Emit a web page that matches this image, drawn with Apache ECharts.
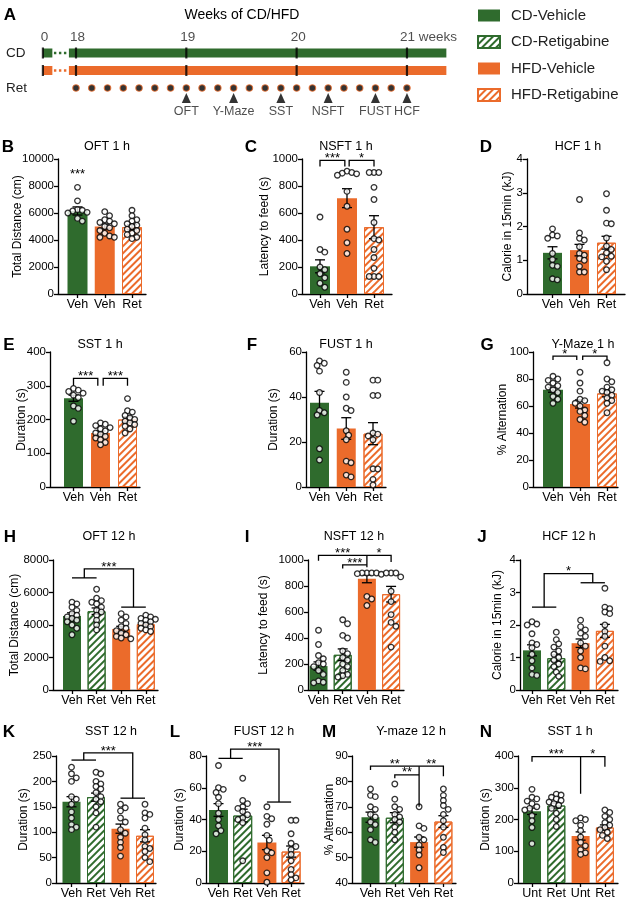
<!DOCTYPE html>
<html>
<head>
<meta charset="utf-8">
<script src="https://cdn.jsdelivr.net/npm/echarts@6/dist/echarts.min.js"></script>
<style>
  html, body { margin: 0; background: #fff; }
  #chart { width: 629px; height: 900px; }
</style>
</head>
<body>
<div id="chart"></div>
<script>
// =====================
// Panel A : timeline
// =====================
const WEEKS = [0, 18, 19, 20, 21]
const RET_DAYS = [0, 1, 2, 3, 4, 5, 6, 7, 8, 9, 10, 11, 12, 13, 14, 15, 16, 17, 18, 19, 20, 21]
const TEST_DAYS = [7, 10, 13, 16, 19, 21]
const TEST_NAMES = ["OFT", "Y-Maze", "SST", "NSFT", "FUST", "HCF"]
const ROW_NAMES = ["CD", "HFD", "Ret"]
const GROUP_NAMES = ["CD-Vehicle", "CD-Retigabine", "HFD-Vehicle", "HFD-Retigabine"]

// =====================
// Bar panels (mean, SEM, single animals)
// group index: 0 CD-Veh, 1 CD-Ret, 2 HFD-Veh, 3 HFD-Ret
// =====================
const B_TITLE = "OFT 1 h", B_YNAME = "Total Distance (cm)"
const B_CATS = ["Veh", "Veh", "Ret"]
const B_GROUPS = [0, 2, 3]
const B_MEAN = [6150, 5000, 4950]
const B_SEM = [300, 180, 190]
const B_DOTS = [
  [7900, 6900, 6250, 6200, 6150, 6050, 6000, 5600, 5400],
  [6100, 5800, 5500, 5400, 5300, 5200, 5000, 4900, 4700, 4500, 4300, 4200, 4200],
  [6200, 5800, 5500, 5400, 5200, 5100, 5000, 4800, 4700, 4500, 4400, 4200, 4100]
]
const B_LINES = []
const B_STARS = [[0, 8700, "***"]]

const C_TITLE = "NSFT 1 h", C_YNAME = "Latency to feed (s)"
const C_CATS = ["Veh", "Veh", "Ret"]
const C_GROUPS = [0, 2, 3]
const C_MEAN = [205, 710, 495]
const C_SEM = [48, 70, 85]
const C_DOTS = [
  [570, 330, 310, 200, 180, 150, 120, 80, 50],
  [910, 900, 895, 890, 880, 760, 650, 480, 380, 300],
  [900, 900, 900, 790, 700, 530, 410, 400, 330, 270, 190, 130, 130, 130]
]
const C_LINES = [[[0, 945], [0, 990], [0.92, 990], [0.92, 945]], [[1.08, 945], [1.08, 990], [2, 990], [2, 945]]]
const C_STARS = [[0.46, 990, "***"], [1.54, 990, "*"]]

const D_TITLE = "HCF 1 h", D_YNAME = "Calorie in 15min (kJ)"
const D_CATS = ["Veh", "Veh", "Ret"]
const D_GROUPS = [0, 2, 3]
const D_MEAN = [1.22, 1.30, 1.52]
const D_SEM = [0.18, 0.17, 0.19]
const D_DOTS = [
  [1.93, 1.75, 1.72, 1.65, 1.2, 1.02, 0.85, 0.82, 0.45, 0.42],
  [2.8, 1.81, 1.65, 1.6, 1.4, 1.2, 1.15, 1.05, 1.0, 0.82, 0.65, 0.65],
  [2.97, 2.48, 2.1, 2.08, 1.66, 1.42, 1.32, 1.22, 1.12, 1.1, 0.97, 0.72]
]
const D_LINES = []
const D_STARS = []

const E_TITLE = "SST 1 h", E_YNAME = "Duration (s)"
const E_CATS = ["Veh", "Veh", "Ret"]
const E_GROUPS = [0, 2, 3]
const E_MEAN = [263, 160, 200]
const E_SEM = [9, 6, 8]
const E_DOTS = [
  [292, 287, 283, 278, 272, 265, 240, 233, 195],
  [190, 186, 182, 176, 172, 166, 160, 156, 150, 145, 140, 132, 125],
  [262, 226, 222, 212, 205, 200, 195, 190, 185, 180, 172, 160]
]
const E_LINES = [[[0, 300], [0, 322], [0.9, 322], [0.9, 300]], [[1.1, 300], [1.1, 322], [2, 322], [2, 300]]]
const E_STARS = [[0.45, 322, "***"], [1.55, 322, "***"]]

const F_TITLE = "FUST 1 h", F_YNAME = "Duration (s)"
const F_CATS = ["Veh", "Veh", "Ret"]
const F_GROUPS = [0, 2, 3]
const F_MEAN = [37.5, 26, 23.7]
const F_SEM = [5, 4.8, 4.9]
const F_DOTS = [
  [56, 55, 54, 51.5, 42, 34, 33, 32, 17, 12],
  [51, 46.5, 40, 35, 34, 25, 23, 21, 11.5, 10.8, 5.3, 4.5],
  [47.5, 47.5, 40.7, 40.7, 24, 23.5, 22.7, 21, 8.1, 8, 3.4, 0.9]
]
const F_LINES = []
const F_STARS = []

const G_TITLE = "Y-Maze 1 h", G_YNAME = "% Alternation"
const G_CATS = ["Veh", "Veh", "Ret"]
const G_GROUPS = [0, 2, 3]
const G_MEAN = [72, 61.5, 69.3]
const G_SEM = [1.8, 3, 2.5]
const G_DOTS = [
  [82, 80, 79, 77, 75, 74, 72, 70, 67, 65, 62],
  [85, 77, 71, 65, 64, 62, 60, 57, 56, 53, 50, 48],
  [92, 80, 78, 74, 72, 71, 70, 68, 66, 64, 62, 55]
]
const G_LINES = [[[0, 94], [0, 97], [0.88, 97], [0.88, 94]], [[1.1, 94], [1.1, 97], [2, 97], [2, 94]]]
const G_STARS = [[0.44, 97, "*"], [1.55, 97, "*"]]

const H_TITLE = "OFT 12 h", H_YNAME = "Total Distance (cm)"
const H_CATS = ["Veh", "Ret", "Veh", "Ret"]
const H_GROUPS = [0, 1, 2, 3]
const H_MEAN = [4550, 4850, 3750, 4050]
const H_SEM = [200, 200, 170, 130]
const H_DOTS = [
  [5400, 5300, 5100, 4900, 4700, 4600, 4500, 4400, 4300, 4200, 4000, 3800, 3400],
  [6200, 5650, 5500, 5400, 5300, 5100, 4900, 4800, 4600, 4300, 4000, 3700],
  [4700, 4500, 4300, 4100, 3900, 3800, 3650, 3500, 3400, 3300, 3200, 3150],
  [4600, 4500, 4400, 4350, 4300, 4200, 4100, 4000, 3900, 3800, 3700, 3600]
]
const H_LINES = [[[0, 6900], [1, 6900]], [[0.5, 6900], [0.5, 7450], [2.5, 7450], [2.5, 5100]], [[2, 5100], [3, 5100]]]
const H_STARS = [[1.5, 7450, "***"]]

const I_TITLE = "NSFT 12 h", I_YNAME = "Latency to feed (s)"
const I_CATS = ["Veh", "Ret", "Veh", "Ret"]
const I_GROUPS = [0, 1, 2, 3]
const I_MEAN = [184, 271, 855, 737]
const I_SEM = [32, 45, 30, 60]
const I_DOTS = [
  [460, 350, 265, 240, 210, 200, 180, 150, 120, 70, 60, 55],
  [540, 510, 420, 400, 300, 280, 250, 230, 200, 180, 150, 120, 110, 100],
  [900, 900, 900, 900, 895, 890, 720, 700, 650],
  [900, 900, 900, 870, 760, 680, 580, 520, 490, 330]
]
const I_LINES = [[[0, 995], [0, 1035], [3, 1035], [3, 985]], [[2, 1035], [2, 945]], [[1, 935], [1, 962], [2, 962]]]
const I_STARS = [[1.0, 1035, "***"], [2.5, 1035, "*"], [1.5, 962, "***"]]

const J_TITLE = "HCF 12 h", J_YNAME = "Calorie in 15min (kJ)"
const J_CATS = ["Veh", "Ret", "Veh", "Ret"]
const J_GROUPS = [0, 1, 2, 3]
const J_MEAN = [1.22, 0.98, 1.44, 1.82]
const J_SEM = [0.17, 0.1, 0.13, 0.2]
const J_DOTS = [
  [2.1, 2.03, 2.0, 1.73, 1.45, 1.4, 1.3, 1.1, 0.9, 0.68, 0.48, 0.45],
  [1.78, 1.55, 1.42, 1.32, 1.2, 1.1, 1.0, 0.92, 0.8, 0.72, 0.55, 0.42],
  [2.15, 1.95, 1.85, 1.75, 1.65, 1.45, 1.35, 1.2, 1.0, 0.68, 0.65],
  [3.13, 2.55, 2.5, 2.4, 2.35, 2.0, 1.8, 1.65, 1.35, 1.0, 0.9, 0.88]
]
const J_LINES = [[[0, 2.55], [1, 2.55]], [[0.5, 2.55], [0.5, 3.58], [2.5, 3.58], [2.5, 3.3]], [[2, 3.3], [3, 3.3]]]
const J_STARS = [[1.5, 3.58, "*"]]

const K_TITLE = "SST 12 h", K_YNAME = "Duration (s)"
const K_CATS = ["Veh", "Ret", "Veh", "Ret"]
const K_GROUPS = [0, 1, 2, 3]
const K_MEAN = [160, 169, 107, 93]
const K_SEM = [10, 8, 9, 12]
const K_DOTS = [
  [228, 215, 207, 200, 170, 165, 155, 140, 128, 115, 110, 105],
  [218, 215, 200, 195, 190, 185, 178, 170, 165, 160, 150, 138, 110],
  [155, 148, 142, 128, 120, 105, 98, 90, 80, 70, 53],
  [155, 138, 135, 128, 108, 95, 85, 72, 68, 62, 50, 42]
]
const K_LINES = [[[0, 242], [1, 242]], [[0.5, 242], [0.5, 256], [2.5, 256], [2.5, 167]], [[2, 167], [3, 167]]]
const K_STARS = [[1.5, 256, "***"]]

const L_TITLE = "FUST 12 h", L_YNAME = "Duration (s)"
const L_CATS = ["Veh", "Ret", "Veh", "Ret"]
const L_GROUPS = [0, 1, 2, 3]
const L_MEAN = [46, 42.5, 25.5, 19.8]
const L_SEM = [4, 4, 4.5, 3.5]
const L_DOTS = [
  [74, 60, 59, 57, 54, 50, 44, 40, 36, 33, 31],
  [66, 52, 50, 48, 47, 45, 43, 41, 40, 38, 14],
  [48, 42, 40.5, 37, 30, 27, 20.3, 19, 16, 6.4, 0.5],
  [39.5, 39.5, 31, 25, 23, 21, 18, 14, 8.5, 5.3, 3.2, 2]
]
const L_LINES = [[[0, 78.5], [1, 78.5]], [[0.5, 78.5], [0.5, 84.3], [2.5, 84.3], [2.5, 51]], [[2, 51], [3, 51]]]
const L_STARS = [[1.5, 84.3, "***"]]

const M_TITLE = "Y-maze 12 h", M_YNAME = "% Alternation"
const M_CATS = ["Veh", "Ret", "Veh", "Ret"]
const M_GROUPS = [0, 1, 2, 3]
const M_MEAN = [65.9, 65.7, 56.1, 64.2]
const M_SEM = [2, 2, 2, 2.3]
const M_DOTS = [
  [77, 74.5, 74, 70, 69, 67, 66, 64, 63, 61, 57, 56],
  [79, 73, 70, 69, 67, 66, 65, 64, 62, 60, 57],
  [70, 62.5, 61.5, 58, 57, 55, 53, 51, 46],
  [77, 74.5, 72.5, 70.5, 69, 67, 64.5, 62, 58, 54, 52]
]
const M_LINES = [[[0, 84.5], [0, 86], [3, 86], [3, 82]], [[2, 86], [2, 70]], [[1, 81.2], [1, 82.6], [2, 82.6]]]
const M_STARS = [[1.0, 86, "**"], [2.5, 86, "**"], [1.5, 82.6, "**"]]

const N_TITLE = "SST 1 h", N_YNAME = "Duration (s)"
const N_CATS = ["Unt", "Ret", "Unt", "Ret"]
const N_GROUPS = [0, 1, 2, 3]
const N_MEAN = [226, 244, 148, 175]
const N_SEM = [10, 8, 13, 8]
const N_DOTS = [
  [295, 270, 265, 258, 250, 240, 235, 230, 212, 196, 175, 124],
  [280, 277, 270, 265, 260, 255, 250, 245, 235, 220, 200, 178],
  [205, 200, 196, 182, 165, 145, 128, 117, 105, 95, 90],
  [230, 222, 210, 200, 190, 182, 175, 168, 160, 150, 140]
]
const N_LINES = [[[0, 382], [0, 398], [3, 398], [3, 366]], [[2, 398], [2, 281]]]
const N_STARS = [[1.0, 398, "***"], [2.5, 398, "*"]]


// =====================
// Layout (pixels) + styles
// =====================
const FONT = "'Liberation Sans', Arial, Helvetica, sans-serif"
const GREEN = "#2f6b2d"
const ORANGE = "#eb6b2b"

function hatch(c) {
  return {
    color: "#fff", borderColor: c, borderWidth: 1,
    decal: { symbol: "rect", symbolSize: 1, color: c, dashArrayX: [1, 0], dashArrayY: [2, 2.2], rotation: -Math.PI / 4 }
  }
}
const GROUP_STYLE = [{ color: GREEN }, hatch(GREEN), { color: ORANGE }, hatch(ORANGE)]

const ROWS = [
  { top: 159, bottom: 294, ty: 147 },
  { top: 352, bottom: 487, ty: 345 },
  { top: 560, bottom: 690, ty: 537 },
  { top: 756, bottom: 884, ty: 732 }
]

// axis = y-axis x, end = x-axis end, c0 = first bar centre, step = bar spacing
const PANELS = [
  { L: "B", row: 0, axis: 58, end: 146, c0: 77.5, step: 27.25, bw: 20, yMin: 0, yMax: 10000, yInt: 2000, gap: 34, tx: 107, lx: 8 },
  { L: "C", row: 0, axis: 302, end: 392, c0: 320, step: 27, bw: 20, yMin: 0, yMax: 1000, yInt: 200, gap: 31, tx: 346, lx: 251 },
  { L: "D", row: 0, axis: 527, end: 625, c0: 552.5, step: 27, bw: 19, yMin: 0, yMax: 4, yInt: 1, gap: 13, tx: 578, lx: 486 },
  { L: "E", row: 1, axis: 50, end: 140, c0: 73.5, step: 27, bw: 19, yMin: 0, yMax: 400, yInt: 100, gap: 22, tx: 100, lx: 9 },
  { L: "F", row: 1, axis: 306, end: 386, c0: 319.5, step: 26.75, bw: 19, yMin: 0, yMax: 60, yInt: 20, gap: 26, tx: 346, lx: 252 },
  { L: "G", row: 1, axis: 533, end: 618, c0: 553, step: 27, bw: 20, yMin: 0, yMax: 100, yInt: 20, gap: 24, tx: 583, lx: 487 },
  { L: "H", row: 2, axis: 53, end: 158, c0: 72, step: 24.6, bw: 18, yMin: 0, yMax: 8000, yInt: 2000, gap: 32, tx: 109, lx: 10 },
  { L: "I", row: 2, axis: 308, end: 404, c0: 318.5, step: 24.2, bw: 18, yMin: 0, yMax: 1000, yInt: 200, gap: 38, tx: 354, lx: 247 },
  { L: "J", row: 2, axis: 520, end: 618, c0: 532, step: 24.3, bw: 18, yMin: 0, yMax: 4, yInt: 1, gap: 16, tx: 569, lx: 482 },
  { L: "K", row: 3, axis: 56, end: 156, c0: 71.5, step: 24.5, bw: 18, yMin: 0, yMax: 250, yInt: 50, gap: 26, tx: 111, lx: 9 },
  { L: "L", row: 3, axis: 206, end: 304, c0: 218.5, step: 24.2, bw: 19, yMin: 0, yMax: 80, yInt: 20, gap: 20, tx: 264, lx: 175 },
  { L: "M", row: 3, axis: 352, end: 456, c0: 370.5, step: 24.3, bw: 18, yMin: 40, yMax: 90, yInt: 10, gap: 16, tx: 411, lx: 329 },
  { L: "N", row: 3, axis: 518, end: 618, c0: 532, step: 24.3, bw: 18, yMin: 0, yMax: 400, yInt: 100, gap: 26, tx: 570, lx: 486 }
]

const DATA = {
  B: [B_TITLE, B_YNAME, B_CATS, B_GROUPS, B_MEAN, B_SEM, B_DOTS, B_LINES, B_STARS],
  C: [C_TITLE, C_YNAME, C_CATS, C_GROUPS, C_MEAN, C_SEM, C_DOTS, C_LINES, C_STARS],
  D: [D_TITLE, D_YNAME, D_CATS, D_GROUPS, D_MEAN, D_SEM, D_DOTS, D_LINES, D_STARS],
  E: [E_TITLE, E_YNAME, E_CATS, E_GROUPS, E_MEAN, E_SEM, E_DOTS, E_LINES, E_STARS],
  F: [F_TITLE, F_YNAME, F_CATS, F_GROUPS, F_MEAN, F_SEM, F_DOTS, F_LINES, F_STARS],
  G: [G_TITLE, G_YNAME, G_CATS, G_GROUPS, G_MEAN, G_SEM, G_DOTS, G_LINES, G_STARS],
  H: [H_TITLE, H_YNAME, H_CATS, H_GROUPS, H_MEAN, H_SEM, H_DOTS, H_LINES, H_STARS],
  I: [I_TITLE, I_YNAME, I_CATS, I_GROUPS, I_MEAN, I_SEM, I_DOTS, I_LINES, I_STARS],
  J: [J_TITLE, J_YNAME, J_CATS, J_GROUPS, J_MEAN, J_SEM, J_DOTS, J_LINES, J_STARS],
  K: [K_TITLE, K_YNAME, K_CATS, K_GROUPS, K_MEAN, K_SEM, K_DOTS, K_LINES, K_STARS],
  L: [L_TITLE, L_YNAME, L_CATS, L_GROUPS, L_MEAN, L_SEM, L_DOTS, L_LINES, L_STARS],
  M: [M_TITLE, M_YNAME, M_CATS, M_GROUPS, M_MEAN, M_SEM, M_DOTS, M_LINES, M_STARS],
  N: [N_TITLE, N_YNAME, N_CATS, N_GROUPS, N_MEAN, N_SEM, N_DOTS, N_LINES, N_STARS]
}

const grids = [], xAxes = [], yAxes = [], series = [], texts = []

function addText(x, y, text, font) {
  texts.push({
    type: "text", x, y, silent: true, z: 100,
    style: { text, font, fill: "#000", align: "center", verticalAlign: "middle", textAlign: "center", textVerticalAlign: "middle" }
  })
}

// push dots sideways until they clear the ones already placed (beeswarm)
function swarm(vals, pxY, pxX, d) {
  const placed = []
  return vals.map(v => {
    const y = v * pxY
    for (let k = 0; k < 60; k++) {
      const dx = (k % 2 ? 1 : -1) * Math.ceil(k / 2) * d * 0.5
      if (placed.every(p => (p[0] - dx) ** 2 + (p[1] - y) ** 2 >= d * d)) {
        placed.push([dx, y])
        return dx / pxX
      }
    }
    return 0
  })
}

// =====================
// Panel A grid
// =====================
const A_DAY0 = 76, A_DAYPX = 15.76
const A_MIN = -2.5, A_MAX = 23.5
const STUB_DAY = -2.1, STUB_END = -1.5, MAIN_START = -0.45
const dayOf = w => (w === 0 ? STUB_DAY : (w - 18) * 7)

grids.push({ left: A_DAY0 + A_MIN * A_DAYPX, width: (A_MAX - A_MIN) * A_DAYPX, top: 44.25, height: 52.5 })
xAxes.push({ type: "value", gridIndex: 0, min: A_MIN, max: A_MAX, show: false })
yAxes.push({
  type: "category", gridIndex: 0, inverse: true, data: ROW_NAMES,
  axisLine: { show: false }, axisTick: { show: false }, splitLine: { show: false },
  axisLabel: { align: "left", margin: A_DAY0 + A_MIN * A_DAYPX - 6, fontSize: 13.5, color: "#222", fontFamily: FONT }
})

;[["CD", GREEN], ["HFD", ORANGE]].forEach(([row, c]) => {
  const solid = { width: 9, color: c, cap: "butt" }
  series.push(
    { type: "line", xAxisIndex: 0, yAxisIndex: 0, symbol: "none", silent: true, lineStyle: solid,
      data: [[STUB_DAY, row], [STUB_END, row]] },
    { type: "line", xAxisIndex: 0, yAxisIndex: 0, symbol: "none", silent: true,
      lineStyle: { width: 2.4, color: c, type: [2.4, 2.6] },
      data: [[STUB_END + 0.1, row], [MAIN_START - 0.1, row]] },
    { type: "line", xAxisIndex: 0, yAxisIndex: 0, symbol: "none", silent: true, lineStyle: solid,
      data: [[MAIN_START, row], [A_MAX, row]] },
    { type: "scatter", xAxisIndex: 0, yAxisIndex: 0, symbol: "rect", symbolSize: [2.2, 11], silent: true, z: 5,
      itemStyle: { color: "#000" },
      label: {
        show: row === "CD", position: "top", distance: 3, offset: [1.5, 0],
        fontSize: 13.5, fontFamily: FONT, color: "#222",
        formatter: p => String(WEEKS[p.dataIndex])
      },
      data: WEEKS.map((w, i) => i === WEEKS.length - 1 && row === "CD"
        ? { value: [dayOf(w), row], label: { align: "left", offset: [-7, 0], formatter: w + " weeks" } }
        : [dayOf(w), row]) }
  )
})

series.push(
  { type: "scatter", xAxisIndex: 0, yAxisIndex: 0, symbolSize: 6.5, silent: true,
    itemStyle: { color: "#000", borderColor: ORANGE, borderWidth: 1.2 },
    data: RET_DAYS.map(d => [d, "Ret"]) },
  { type: "scatter", xAxisIndex: 0, yAxisIndex: 0, symbol: "triangle", symbolSize: [9, 10], symbolOffset: [0, 10],
    silent: true, itemStyle: { color: "#000" },
    data: TEST_DAYS.map(d => [d, "Ret"]) },
  { type: "scatter", xAxisIndex: 0, yAxisIndex: 0, symbolSize: 0.1, silent: true,
    label: { show: true, position: "bottom", distance: 17, fontSize: 12.5, fontFamily: FONT, color: "#222",
      formatter: p => TEST_NAMES[p.dataIndex] },
    data: TEST_DAYS.map(d => [d, "Ret"]) }
)

// legend entries (empty series carrying the group styles)
GROUP_NAMES.forEach((name, i) => {
  series.push({ type: "bar", name, xAxisIndex: 0, yAxisIndex: 0, data: [], itemStyle: GROUP_STYLE[i] })
})

addText(242, 15, "Weeks of CD/HFD", `14px ${FONT}`)
addText(10, 15, "A", `bold 17px ${FONT}`)

// =====================
// Bar panels
// =====================
const AXIS_LINE = { color: "#000", width: 1.3 }

PANELS.forEach(P => {
  const [title, yName, cats, groups, mean, sem, dots, lines, stars] = DATA[P.L]
  const R = ROWS[P.row]
  const gi = grids.length
  const xMin = (P.axis - P.c0) / P.step
  const xMax = (P.end - P.c0) / P.step
  const pxY = (R.bottom - R.top) / (P.yMax - P.yMin)
  const catIdx = cats.map((_, i) => i)

  grids.push({ left: P.axis, width: P.end - P.axis, top: R.top, height: R.bottom - R.top })

  xAxes.push({
    type: "value", gridIndex: gi, min: xMin, max: xMax,
    axisLine: { show: true, onZero: false, lineStyle: AXIS_LINE },
    axisTick: { show: true, customValues: catIdx, length: 4, lineStyle: AXIS_LINE },
    splitLine: { show: false },
    axisLabel: {
      customValues: catIdx, formatter: v => cats[Math.round(v)] || "",
      margin: 4, fontSize: 12.5, color: "#000", fontFamily: FONT
    }
  })
  yAxes.push({
    type: "value", gridIndex: gi, min: P.yMin, max: P.yMax, interval: P.yInt,
    name: yName, nameLocation: "middle", nameGap: P.gap, nameMoveOverlap: false,
    nameTextStyle: { fontSize: 12, color: "#000", fontFamily: FONT },
    axisLine: { show: true, onZero: false, lineStyle: AXIS_LINE },
    axisTick: { show: true, length: 4, lineStyle: AXIS_LINE },
    splitLine: { show: false },
    axisLabel: { margin: 4, fontSize: 11.5, color: "#000", fontFamily: FONT, formatter: v => String(v) }
  })

  // bars
  series.push({
    type: "bar", xAxisIndex: gi, yAxisIndex: gi, barWidth: P.bw, silent: true, z: 2,
    data: mean.map((m, i) => ({ value: [i, m], itemStyle: GROUP_STYLE[groups[i]] }))
  })

  // error bars (mean ± SEM)
  series.push({
    type: "custom", xAxisIndex: gi, yAxisIndex: gi, silent: true, z: 4, clip: false,
    data: mean.map((m, i) => [i, m, sem[i]]),
    renderItem: (params, api) => {
      const x = api.value(0), m = api.value(1), s = api.value(2)
      const a = api.coord([x, m + s]), b = api.coord([x, m - s])
      const st = { stroke: "#000", lineWidth: 1.3 }
      return { type: "group", children: [
        { type: "line", shape: { x1: a[0], y1: a[1], x2: b[0], y2: b[1] }, style: st },
        { type: "line", shape: { x1: a[0] - 5, y1: a[1], x2: a[0] + 5, y2: a[1] }, style: st },
        { type: "line", shape: { x1: b[0] - 5, y1: b[1], x2: b[0] + 5, y2: b[1] }, style: st }
      ] }
    }
  })

  // single animals
  const pts = []
  dots.forEach((vals, i) => {
    const off = swarm(vals, pxY, P.step, 4.8)
    vals.forEach((v, k) => pts.push([i + off[k], v]))
  })
  series.push({
    type: "scatter", xAxisIndex: gi, yAxisIndex: gi, symbolSize: 5.6, silent: true, z: 5,
    itemStyle: { color: "#fff", borderColor: "#000", borderWidth: 1.3 },
    data: pts
  })

  // significance brackets
  if (lines.length) {
    series.push({
      type: "custom", xAxisIndex: gi, yAxisIndex: gi, silent: true, z: 6, clip: false,
      data: lines.map((l, i) => [l[0][0], l[0][1], i]),
      renderItem: (params, api) => ({
        type: "polyline",
        shape: { points: lines[api.value(2)].map(q => api.coord(q)) },
        style: { stroke: "#000", fill: null, lineWidth: 1.3 }
      })
    })
  }
  if (stars.length) {
    series.push({
      type: "custom", xAxisIndex: gi, yAxisIndex: gi, silent: true, z: 6, clip: false,
      data: stars.map((s, i) => [s[0], s[1], i]),
      renderItem: (params, api) => {
        const c = api.coord([api.value(0), api.value(1)])
        return { type: "text", x: c[0], y: c[1] - 2,
          style: { text: stars[api.value(2)][2], font: `13px ${FONT}`, fill: "#000",
            align: "center", verticalAlign: "middle" } }
      }
    })
  }

  addText(P.tx, R.ty, title, `12.5px ${FONT}`)
  addText(P.lx, R.ty, P.L, `bold 17px ${FONT}`)
})

// =====================
// Chart
// =====================
const chart = echarts.init(document.getElementById("chart"))
chart.setOption({
  animation: false,
  backgroundColor: "#fff",
  legend: {
    data: GROUP_NAMES, orient: "vertical", left: 477, top: 8, padding: 0,
    icon: "rect", itemWidth: 22, itemHeight: 12, itemGap: 11.5, selectedMode: false,
    textStyle: { fontSize: 15, fontFamily: FONT, color: "#222", padding: [0, 0, 0, 6] }
  },
  grid: grids,
  xAxis: xAxes,
  yAxis: yAxes,
  series,
  graphic: texts
})
</script>
</body>
</html>
